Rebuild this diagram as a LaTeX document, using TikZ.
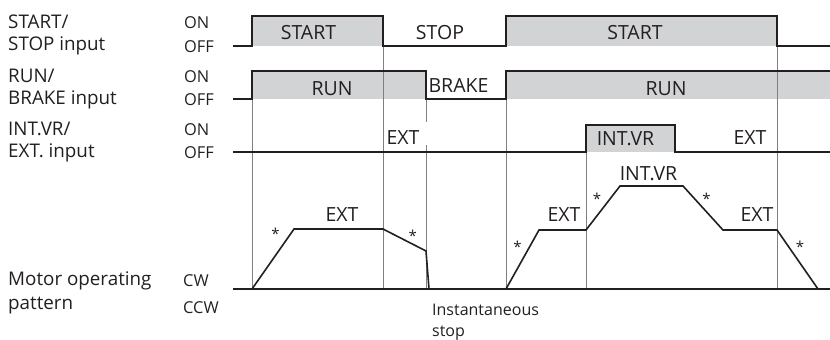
\documentclass[tikz,border=0pt]{standalone}
\usepackage{fontspec}
\setmainfont{Open Sans}
\definecolor{sigfill}{HTML}{D1D3D4}
\definecolor{sigline}{HTML}{231F20}
\definecolor{guide}{HTML}{808080}
\tikzset{
  sig/.style={draw=sigline, line width=1.6pt, line join=miter},
  guideline/.style={draw=guide, line width=0.9pt},
  band/.style={fill=sigfill, draw=none},
  rowlab/.style={anchor=base west, inner sep=0pt, font=\fontsize{18.8}{22}\selectfont, text=sigline},
  lvl/.style={anchor=base west, inner sep=0pt, font=\fontsize{16.4}{19}\selectfont, text=sigline},
  inlab/.style={anchor=base, inner sep=0pt, font=\fontsize{19.5}{22}\selectfont, text=sigline},
  ast/.style={inner sep=0pt, font=\fontsize{15}{18}\selectfont, text=sigline},
}
\begin{document}
\begin{tikzpicture}[x=1pt, y=-1pt]
\useasboundingbox (0,0) rectangle (830,340);
% fills
\fill[band] (252,16) rectangle (383,46);
\fill[band] (506,16) rectangle (777,46);
\fill[band] (252,71) rectangle (426,99);
\fill[band] (506,71) rectangle (830,99);
\fill[band] (586,125) rectangle (675,152);
% guide lines
\draw[guideline] (252,99) -- (252,289);
\draw[guideline] (383,46) -- (383,289);
\draw[guideline] (426,99) -- (426,122);
\draw[guideline] (426,145) -- (426,289);
\draw[guideline] (506,99) -- (506,289);
\draw[guideline] (586,152) -- (586,289);
\draw[guideline] (777,46) -- (777,289);
% signals
\draw[sig] (233,46) -- (252,46) -- (252,16) -- (383,16) -- (383,46) -- (506,46) -- (506,16) -- (777,16) -- (777,46) -- (830,46);
\draw[sig] (233,99) -- (252,99) -- (252,71) -- (426,71) -- (426,99) -- (506,99) -- (506,71) -- (830,71);
\draw[sig] (233,152) -- (586,152) -- (586,125) -- (675,125) -- (675,152) -- (830,152);
% motor
\draw[sig] (233,289) -- (830,289);
\draw[sig] (252,289) -- (294,229) -- (383,229) -- (426,251) -- (429,289);
\draw[sig] (506,289) -- (539,230) -- (586,230) -- (620,186) -- (683,186) -- (723,230) -- (777,230) -- (818,289);
% left labels
\node[rowlab] (l1a) at (8,28) {START/};
\node[rowlab] (l1b) at (8,50.5) {STOP input};
\node[rowlab] (l2a) at (8,82) {RUN/};
\node[rowlab] (l2b) at (8,104) {BRAKE input};
\node[rowlab] (l3a) at (8,135) {INT.VR/};
\node[rowlab] (l3b) at (8,157.5) {EXT. input};
\node[rowlab] (l4a) at (8,285) {Motor operating};
\node[rowlab] (l4b) at (8,309) {pattern};
% levels
\node[lvl] (on1) at (184,28) {ON};
\node[lvl] (off1) at (184,52.5) {OFF};
\node[lvl] (on2) at (184,82) {ON};
\node[lvl] (off2) at (184,105.5) {OFF};
\node[lvl] (on3) at (184,135) {ON};
\node[lvl] (off3) at (184,158.5) {OFF};
\node[lvl] (cw) at (183,286) {CW};
\node[lvl] (ccw) at (183,313) {CCW};
% inner labels
\node[inlab] (t1) at (308.5,39.5) {START};
\node[inlab] (t2) at (440,39.5) {STOP};
\node[inlab] (t3) at (635,39.5) {START};
\node[inlab] (t4) at (332,95) {RUN};
\node[inlab] (t5) at (458.5,92.5) {BRAKE};
\node[inlab] (t6) at (666,95) {RUN};
\node[inlab] (t7) at (403,144) {EXT};
\node[inlab] (t8) at (625.5,145.7) {INT.VR};
\node[inlab] (t9) at (750,144) {EXT};
\node[inlab] (m1) at (342,221.7) {EXT};
\node[inlab] (m2) at (564,221.7) {EXT};
\node[inlab] (m3) at (648.5,180.7) {INT.VR};
\node[inlab] (m4) at (757,221.7) {EXT};
\node[lvl, font=\fontsize{16}{23}\selectfont] (inst) at (432,315) {Instantaneous};
\node[lvl, font=\fontsize{16}{23}\selectfont] (inst2) at (432,336.5) {stop};
% asterisks
\node[ast] (a1) at (275.5,233.5) {*};
\node[ast] (a2) at (412.7,235.5) {*};
\node[ast] (a3) at (517.5,247) {*};
\node[ast] (a4) at (597,198.5) {*};
\node[ast] (a5) at (706.5,198.5) {*};
\node[ast] (a6) at (800,247) {*};
\end{tikzpicture}
\end{document}
